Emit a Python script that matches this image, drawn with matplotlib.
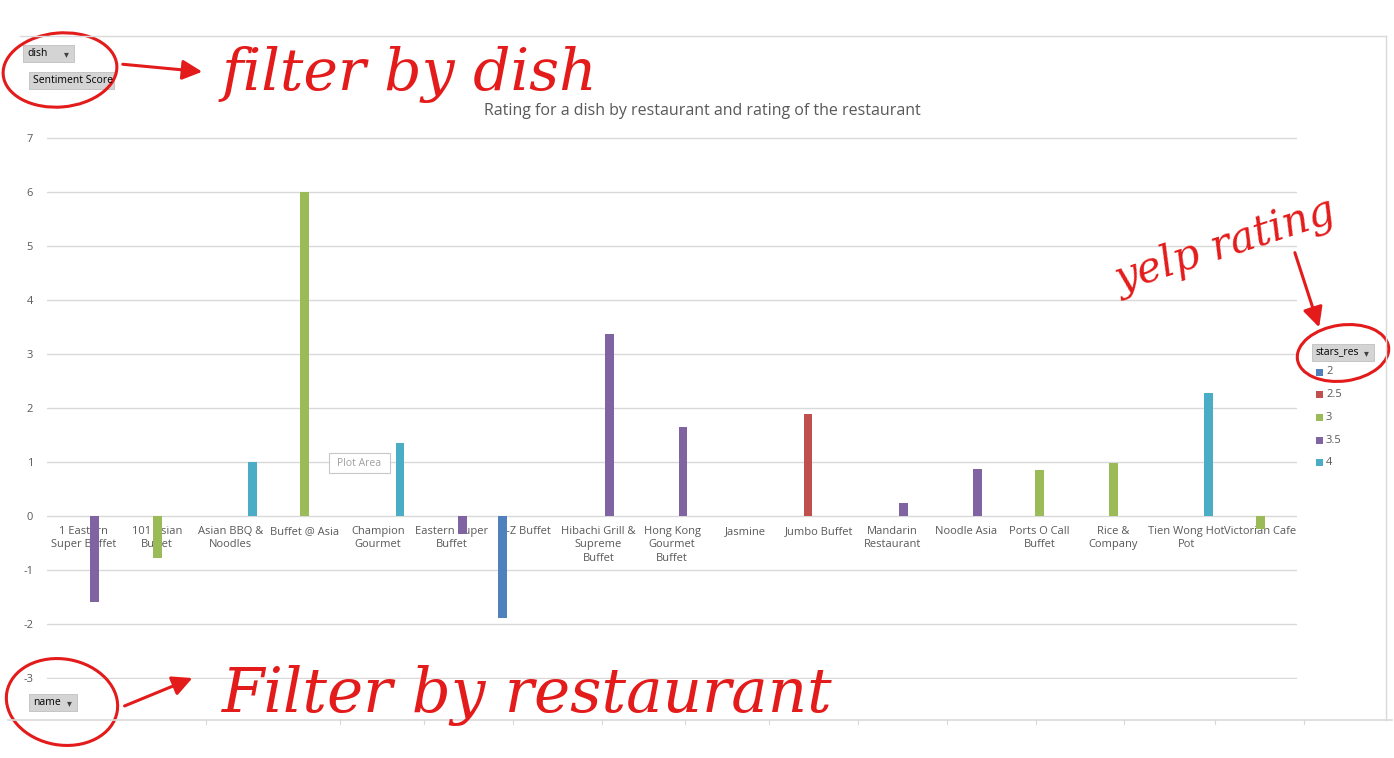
import numpy as np
import matplotlib
matplotlib.use("Agg")
import matplotlib.pyplot as plt
from matplotlib.patches import Rectangle, Ellipse, FancyArrowPatch

plt.rcParams["axes.unicode_minus"] = False

# data
restaurants = ["1 Eastern\nSuper Buffet", "101 Asian\nBuffet", "Asian BBQ &\nNoodles",
               "Buffet @ Asia", "Champion\nGourmet", "Eastern Super\nBuffet", "E-Z Buffet",
               "Hibachi Grill &\nSupreme\nBuffet", "Hong Kong\nGourmet\nBuffet", "Jasmine",
               "Jumbo Buffet", "Mandarin\nRestaurant", "Noodle Asia", "Ports O Call\nBuffet",
               "Rice &\nCompany", "Tien Wong Hot\nPot", "Victorian Cafe"]
stars_res = ["3.5", "3", "4", "3", "4", "3.5", "2", "3.5", "3.5", None,
             "2.5", "3.5", "3.5", "3", "3", "4", "3"]
scores = [-1.6, -0.77, 1.0, 6.0, 1.35, -0.33, -1.88, 3.37, 1.65, np.nan,
          1.89, 0.24, 0.87, 0.85, 0.98, 2.28, -0.24]
levels = ["2", "2.5", "3", "3.5", "4"]
colors = ["#4F81BD", "#C0504D", "#9BBB59", "#8064A2", "#4BACC6"]

W, H = 1394, 758
gray = "#595959"
font = "Open Sans"

fig = plt.figure(figsize=(W / 100, H / 100), dpi=100)
ax = fig.add_axes([47 / W, 1 - 679 / H, (1297 - 47) / W, (679 - 137) / H])

x = np.arange(len(restaurants))
step, width = 0.15, 0.12
for k, lev in enumerate(levels):
    vals = [s if r == lev else np.nan for s, r in zip(scores, stars_res)]
    ax.bar(x + (k - 2) * step, vals, width, color=colors[k], zorder=3)

ax.set_xlim(-0.5, len(restaurants) - 0.5)
ax.set_ylim(-3.0185, 7.0185)
ax.set_yticks(range(-3, 8))
ax.set_xticks([])
ax.grid(axis="y", color="#d9d9d9", linewidth=1, zorder=0)
ax.set_axisbelow(True)
for s in ax.spines.values():
    s.set_visible(False)
ax.tick_params(axis="y", length=0, pad=10, labelsize=8, labelcolor=gray)
for lab in ax.get_yticklabels():
    lab.set_fontfamily(font)

# category labels next to the zero line, under the bars
for i, name in enumerate(restaurants):
    ax.annotate(name, (i, 0), xytext=(0, -7), textcoords="offset points",
                ha="center", va="top", fontsize=8, color=gray, family=font,
                linespacing=1.3, zorder=1)

# overlay in pixel coordinates
ov = fig.add_axes([0, 0, 1, 1], zorder=5)
ov.set_xlim(0, W)
ov.set_ylim(H, 0)
ov.axis("off")
ov.patch.set_alpha(0)

# chart border
bc = "#d9d9d9"
ov.plot([20, 1386], [36, 36], color=bc, lw=1)
ov.plot([1386, 1386], [36, 720], color=bc, lw=1)
ov.plot([8, 1392], [720, 720], color=bc, lw=1.2)
for tx in [206, 340, 424, 513, 602, 685, 769, 858, 947, 1036, 1124, 1215, 1304]:
    ov.plot([tx, tx], [720, 724], color=bc, lw=0.8)

ov.text(702, 111, "Rating for a dish by restaurant and rating of the restaurant",
        ha="center", va="center", fontsize=11.5, color=gray, family=font)


def button(x0, y0, w, h, label, arrow=False):
    ov.add_patch(Rectangle((x0, y0), w, h, facecolor="#d4d4d4", edgecolor="#c0c0c0", lw=0.6))
    ov.text(x0 + 4, y0 + h / 2, label, ha="left", va="center", fontsize=7.5,
            color="black", family=font)
    if arrow:
        ov.text(x0 + w - 5, y0 + h / 2 + 1, "\u25BE", ha="right", va="center",
                fontsize=7, color="#404040")


button(23, 45, 51, 17, "dish", arrow=True)
button(29, 72, 85, 17, "Sentiment Score")
button(29, 694, 48, 17, "name", arrow=True)
button(1312, 344, 62, 17, "stars_res", arrow=True)

# legend
for k, lev in enumerate(levels):
    yy = 372 + k * 22.7
    ov.add_patch(Rectangle((1316, yy - 3.5), 7, 7, facecolor=colors[k], lw=0))
    ov.text(1326, yy, lev, ha="left", va="center", fontsize=8, color=gray, family=font)

# "Plot Area" hover tip
ov.add_patch(Rectangle((329, 453), 61, 20, facecolor="white", edgecolor="#c8c8c8", lw=0.8))
ov.text(359.5, 463, "Plot Area", ha="center", va="center", fontsize=7.5, color="#a0a0a0", family=font)

# red hand annotations
red = "#e31b1b"
ov.add_patch(Ellipse((60, 70), 114, 74, fill=False, edgecolor=red, lw=2.2, angle=-5))
ov.add_patch(Ellipse((62, 702), 112, 86, fill=False, edgecolor=red, lw=2.2, angle=10))
ov.add_patch(Ellipse((1343, 353), 92, 56, fill=False, edgecolor=red, lw=2.2, angle=-8))
for p0, p1 in [((120, 64), (205, 72)), ((122, 707), (195, 677)), ((1294, 250), (1320, 330))]:
    ov.add_patch(FancyArrowPatch(p0, p1, arrowstyle="-|>,head_length=12,head_width=6",
                                 color=red, lw=2.2, mutation_scale=1))
hand = dict(color=red, family="DejaVu Serif", style="italic")
ov.text(222, 90, "filter by dish", ha="left", va="baseline", fontsize=42, **hand)
ov.text(222, 712, "Filter by restaurant", ha="left", va="baseline", fontsize=44, **hand)
ov.text(1225, 245, "yelp rating", ha="center", va="center", fontsize=30, rotation=18, **hand)

fig.savefig("out.png", dpi=100)
